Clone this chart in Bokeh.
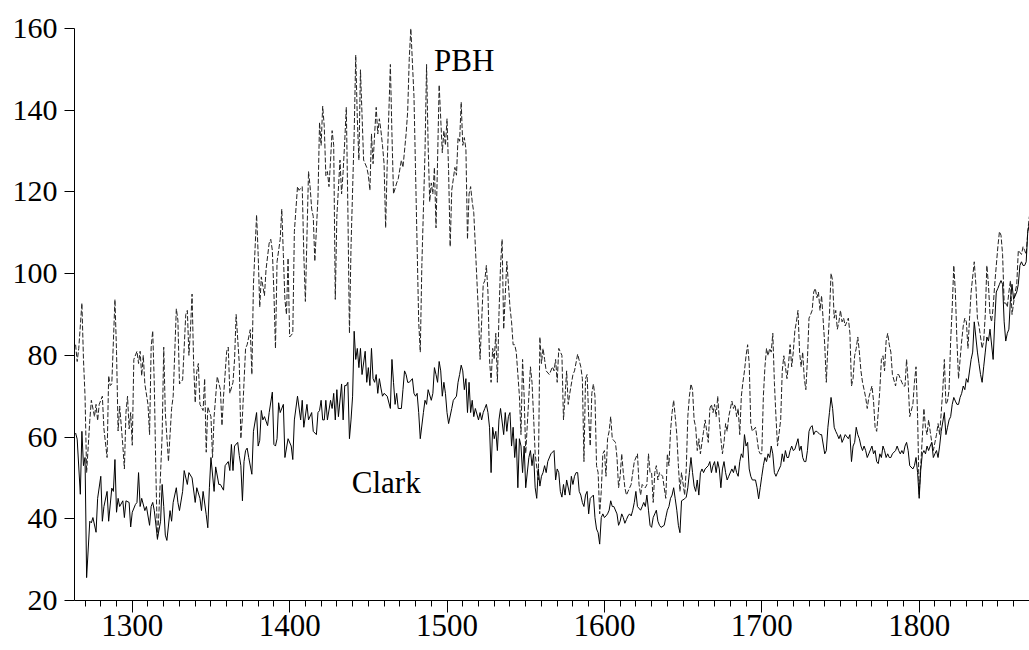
from bokeh.plotting import figure
from bokeh.models import Range1d, SingleIntervalTicker, Label
from bokeh.embed import file_html
from bokeh.resources import INLINE

# ---- data ----
pbh_years = [
1264,1265,1266,1268,1269,1270,1271,1273,1274,1276,1277,1278,1279,1281,1282,1284,1285,1286,1287,1289,
1290,1291,1292,1294,1295,1296,1297,1298,1299,1300,1301,1303,1304,1305,1306,1307,1308,1310,1311,1312,
1313,1314,1315,1316,1317,1319,1320,1321,1323,1325,1326,1328,1329,1330,1332,1334,1335,1336,1337,1338,
1339,1340,1341,1342,1343,1345,1346,1347,1348,1350,1351,1352,1354,1356,1357,1358,1360,1361,1362,1364,
1365,1366,1368,1369,1370,1372,1373,1375,1376,1377,1379,1380,1381,1382,1384,1385,1387,1388,1389,1390,
1391,1392,1394,1395,1396,1397,1398,1399,1400,1402,1403,1405,1406,1408,1409,1410,1412,1413,1414,1415,
1416,1418,1419,1420,1421,1422,1423,1424,1425,1426,1427,1428,1429,1430,1432,1433,1434,1435,1436,1437,
1438,1439,1441,1442,1443,1444,1445,1446,1447,1449,1450,1451,1452,1453,1454,1455,1456,1457,1458,1459,
1460,1461,1462,1464,1465,1466,1468,1469,1471,1472,1474,1475,1476,1477,1479,1480,1481,1482,1483,1484,
1486,1487,1488,1489,1490,1491,1492,1493,1494,1495,1496,1497,1498,1499,1500,1501,1502,1503,1505,1506,
1507,1508,1509,1510,1511,1512,1513,1514,1515,1516,1517,1518,1520,1521,1522,1523,1524,1525,1526,1527,
1528,1529,1530,1531,1532,1533,1534,1535,1536,1538,1539,1540,1541,1542,1543,1544,1546,1547,1548,1549,
1550,1552,1553,1554,1555,1556,1558,1559,1560,1561,1562,1563,1565,1567,1568,1569,1570,1571,1573,1574,
1575,1576,1577,1578,1580,1581,1583,1585,1586,1587,1588,1589,1590,1591,1592,1593,1594,1595,1596,1597,
1598,1599,1600,1601,1602,1603,1604,1605,1607,1608,1609,1610,1611,1612,1613,1614,1615,1617,1618,1619,
1621,1622,1623,1624,1626,1627,1628,1629,1630,1631,1632,1633,1634,1635,1637,1638,1639,1640,1641,1642,
1643,1644,1645,1646,1647,1648,1649,1651,1652,1653,1654,1655,1656,1657,1658,1659,1660,1661,1662,1663,
1664,1666,1667,1668,1669,1670,1671,1672,1673,1674,1675,1676,1677,1678,1679,1681,1682,1683,1684,1685,
1686,1687,1688,1689,1690,1691,1692,1693,1694,1696,1697,1698,1699,1700,1701,1702,1703,1704,1705,1706,
1707,1708,1709,1710,1712,1713,1714,1715,1716,1717,1718,1719,1720,1721,1722,1723,1724,1725,1726,1727,
1728,1729,1730,1731,1732,1733,1734,1735,1736,1737,1738,1740,1741,1742,1743,1744,1745,1746,1747,1748,
1749,1750,1751,1752,1753,1755,1756,1757,1758,1759,1760,1761,1762,1763,1764,1765,1766,1767,1768,1770,
1771,1772,1773,1774,1775,1776,1777,1778,1779,1780,1781,1782,1783,1785,1786,1787,1788,1789,1790,1791,
1792,1793,1794,1796,1797,1798,1799,1800,1801,1803,1804,1805,1806,1807,1808,1809,1811,1812,1813,1814,
1815,1816,1817,1818,1819,1820,1821,1822,1823,1824,1825,1826,1827,1828,1829,1830,1831,1832,1833,1835,
1836,1837,1838,1839,1840,1841,1842,1843,1844,1845,1846,1847,1848,1850,1851,1852,1853,1854,1855,1856,
1857,1858,1859,1860,1861,1862,1863,1865,1866,1867,1868,1869,1870]
pbh_values = [
82.6,78.5,81.7,92.8,79,70,51.3,64,69,65,68,64,68,70,62,55,75,72.6,73,93.7,
81,61.5,67.6,58,52.2,66,70,62,66,58,79,81,78,81,75,80,73,68,60.6,82,
86,73,51.3,34.7,42,60.6,82,66,54,67,70,91.4,88.6,73,74,90,91,80,86.4,95,
78,68.4,76,78,68,66.5,74.3,56.3,67.4,65,55,65,74.8,71.6,62.8,70,81,82,70.7,73.4,
79,90,78,59.6,65,81.7,82.6,86.3,75.3,97.4,114.4,104.7,91.8,99.2,94.6,101,107.5,108.4,105.7,95.5,
81.7,102.9,108.4,115.8,104.7,93.6,90,103.8,84.5,85.4,110.3,121.3,120.4,121.3,104.7,93.2,125,121.3,115.8,114,
103,118.6,137,131.4,141,136,124,125,121.3,127.8,135,131.4,93.7,114,127.8,119.5,125,132.4,140.7,115.8,
85.4,106.6,134.2,153.5,137.9,127.8,149.9,138.8,127.8,126,124.1,120.4,134.2,126.9,134.2,140.7,134.2,137.9,135,131.4,
126.9,111.2,126.9,151.2,134.2,119.5,122.2,123.2,127.8,126,134.2,139.7,152.6,160,143.4,125,106.6,88.2,80.8,102,
129.6,151.2,131.4,117.6,122.2,119.5,126,111.2,127.8,146.2,137.9,129.6,135,131.4,137.9,125,106.6,120.4,126,124.1,
133.3,132.4,142,131.4,133.3,130.5,108.4,119.5,121.3,117.6,114.9,106.6,90,79,88.2,97.4,98.3,102,95.5,79,
73.4,81.7,79,85.4,73.4,90,102,108.4,86.4,103,97.4,91.8,88.2,82.6,82.6,80.8,70,60.6,79,70,
56,70,77.2,73.4,65,55.9,49.5,84.5,78,81.7,79,76.2,75.3,77.2,76.2,79,73.4,81.7,80,64.2,
70,76.2,68,70.7,75.3,76.2,80.3,77.2,74.3,54,74.3,75.3,65,57.8,70.7,73,70,53,51.3,41.2,
46.7,55.9,56.7,50.4,59.6,61.4,65,59.6,58.7,55,47.6,50.4,55.9,51.3,47.6,45.8,46.7,48.4,51.3,54,
55.9,48.4,45.8,48.4,47.6,48.4,55.9,51.3,51.3,44,51.3,53,49.5,51.3,50.4,47.6,45,55.9,53,61.4,
66,69,65,60.6,53,46.7,51.3,45.8,52.2,65,70,73,71.6,64.2,62.4,56.7,59.6,55.9,58.7,61.4,
64.2,58.7,67,68,66,68,65,70,64.2,59.6,55.9,58.7,63.3,61.4,65,68.8,67,68,65,67,
60.6,70,73.4,76.2,79.9,82.6,78,63.3,61.4,62.4,59.6,56.7,55.9,55.9,70,77.2,81.7,79.9,81.7,80.8,
85.4,73.4,65,57.8,64.2,76.2,79.9,77.2,74.3,78,82.6,77.2,80.8,86,88.2,91,80.8,77.2,80.8,74.3,
71.6,79,89.1,90,91,95.5,96.4,94.1,95.5,91,94.6,82.6,73.4,82.6,90,100.1,98.3,89.1,91,86.4,
88.2,91,88.2,89.1,87.2,89.1,85.4,72.5,74.3,79.9,81.7,84.5,80.8,76.2,73.4,71.6,69.7,67,69.7,72.5,
68.8,62.4,61.4,66,71.6,79,79.9,76.2,83.5,85.4,82.6,80.8,75.3,72.5,75.3,75.3,74.3,73.4,72.5,72.5,
79,73.4,65,68,73.4,77.2,65,46,53,67,62.4,60.6,64.2,61.4,58.7,56.7,60.6,63.3,60.6,66,
71.6,79,68,68.8,71.6,83.5,91.8,102,95.5,83.5,74.3,79,83.5,87.2,89.1,88.2,81.7,89.1,95.5,102.9,
97.4,89.1,87.2,84.5,81.7,83.5,90,102,97.4,90,88.2,91.8,97.4,106.6,110.3,109.4,104.7,92.8,92.8,91.8,
95.5,98.3,90,92.8,95.5,97.4,105.7,104.7,106.6,105.7,104.7,110.3,114]

clark_years = [
1264,1265,1267,1268,1269,1270,1271,1273,1274,1275,1277,1278,1280,1281,1282,1284,1285,1287,1288,1289,
1290,1291,1292,1294,1295,1296,1298,1299,1300,1302,1303,1304,1305,1306,1308,1309,1311,1312,1313,1314,
1316,1318,1319,1320,1321,1322,1324,1325,1326,1328,1329,1330,1332,1333,1335,1336,1338,1340,1341,1343,
1344,1345,1347,1348,1349,1350,1352,1353,1355,1356,1358,1359,1361,1362,1363,1364,1365,1367,1368,1369,
1370,1371,1372,1373,1374,1376,1377,1379,1380,1381,1382,1383,1384,1386,1387,1389,1390,1391,1392,1393,
1394,1396,1397,1399,1401,1402,1403,1405,1407,1408,1409,1411,1412,1414,1415,1417,1418,1419,1420,1421,
1422,1423,1424,1426,1427,1428,1429,1430,1431,1433,1434,1435,1436,1437,1438,1439,1440,1441,1442,1443,
1444,1445,1446,1448,1449,1450,1451,1452,1453,1454,1455,1456,1457,1458,1459,1460,1462,1464,1465,1466,
1467,1468,1469,1471,1472,1473,1474,1475,1476,1478,1479,1480,1481,1482,1483,1485,1486,1487,1488,1490,
1491,1492,1493,1494,1495,1496,1497,1498,1499,1500,1501,1503,1504,1506,1507,1508,1509,1510,1511,1512,
1513,1514,1515,1516,1517,1518,1520,1521,1522,1523,1524,1525,1526,1527,1528,1529,1530,1531,1532,1533,
1534,1536,1537,1538,1539,1540,1541,1542,1543,1544,1545,1546,1547,1548,1549,1550,1552,1553,1554,1555,
1556,1557,1558,1559,1560,1561,1562,1563,1564,1566,1568,1569,1570,1571,1572,1573,1574,1575,1576,1578,
1579,1580,1581,1582,1583,1584,1585,1586,1587,1588,1589,1590,1591,1593,1594,1595,1596,1597,1598,1599,
1600,1601,1602,1603,1604,1605,1606,1608,1609,1610,1611,1612,1613,1614,1615,1616,1617,1618,1619,1620,
1621,1623,1624,1625,1626,1627,1628,1629,1630,1631,1632,1633,1634,1635,1636,1638,1639,1640,1641,1642,
1643,1644,1645,1646,1647,1648,1649,1651,1652,1653,1654,1655,1656,1657,1658,1659,1660,1661,1662,1663,
1664,1666,1667,1668,1669,1670,1671,1672,1673,1674,1675,1676,1677,1678,1679,1681,1682,1683,1684,1685,
1686,1687,1688,1689,1690,1691,1692,1693,1694,1696,1697,1698,1699,1700,1701,1702,1703,1704,1705,1706,
1707,1708,1709,1710,1712,1713,1714,1715,1716,1717,1718,1719,1720,1721,1723,1724,1725,1726,1727,1728,
1729,1730,1731,1732,1733,1734,1735,1736,1737,1738,1740,1741,1742,1743,1744,1745,1746,1747,1748,1749,
1750,1751,1752,1753,1755,1756,1757,1758,1759,1760,1761,1762,1763,1764,1765,1766,1767,1768,1770,1771,
1772,1773,1774,1775,1776,1777,1778,1779,1780,1781,1782,1783,1785,1786,1787,1788,1789,1790,1791,1792,
1793,1794,1796,1797,1798,1799,1800,1801,1802,1803,1804,1805,1806,1807,1808,1809,1810,1811,1812,1813,
1814,1816,1817,1818,1819,1820,1821,1822,1823,1824,1825,1826,1827,1828,1829,1830,1831,1833,1834,1835,
1836,1837,1838,1839,1840,1841,1842,1843,1844,1845,1847,1848,1849,1850,1851,1852,1853,1854,1855,1856,
1857,1858,1859,1860,1862,1863,1864,1865,1866,1867,1868,1869,1870]
clark_values = [
61,59.5,46,61.4,53,55,25.6,39.4,39,40.3,36.7,45,50.4,39.4,43,46.7,39.4,47.5,46.7,54.5,
41.6,45,43,44.4,40.3,44.4,44,38,41.6,43.5,44,51.3,43,45,42,43,38.4,43,44,42,
35.2,39.4,48.4,43,36,34.7,42,39.4,44,47.6,44,42,46.7,51.8,48.4,51.3,50,44,47.6,45,
42,46.7,41,37.8,47.6,55,46.7,52.7,48.4,48.4,47,53,54,51.8,58.2,51.8,57.8,58.7,55.5,53,
44.4,54,56.7,57.3,55,50.9,61.4,66,57.8,59.2,66.5,64.2,65,62.8,66,71,58.2,57.8,59.6,68.4,
66,68,55,59.6,57.8,54.5,64.2,70,64.2,69,62.4,68,64.2,66,61.4,60.6,66,66.5,69,64.2,
64.2,69,64.2,69,67,70.7,64.2,71.6,65,73,64.2,72.6,72.6,73.4,59.6,64.2,70,85.9,79,81.7,
77,81.7,75.3,81,73.4,77,72.6,81.7,74.3,73.4,75.3,70.7,74.3,72,70,70.7,70,67,79,73.4,
68,70.7,67,67,71.6,76.2,75.3,73.4,73.4,74.3,70.7,70,70.7,66,59.6,66,69,68,71.6,69,
70.7,77,75.3,73.4,78.5,76.2,70,73.4,70.7,66,63.3,67,69,70,73.4,75.3,77.6,76.2,71.6,74.3,
66,73.4,66,69,65,67,64.2,66,64.2,66,67,68,66,62.4,51.3,62.4,59.6,61.4,56.7,64.2,
67,60.6,66,61.4,65,66,57.8,62.4,55,59.6,47.6,59.6,57.8,51.3,57.8,47.6,55,56.7,53,55.9,
47.6,45,52.2,48,50.4,51.3,53,51.3,54,55.9,56.7,49.5,52.2,51.3,46.7,45.3,48.4,45.8,49.5,45.8,
50.4,48.4,50.4,51.3,51.3,46.7,45.8,44,43,45.8,46.7,41.2,45,45.8,40.3,37.5,36.6,33.8,40.3,41.2,
40.3,40.7,41.2,42.1,44.4,43,43,41.2,38.4,39.4,41.2,40.3,38.9,39.8,40.7,41.2,40.7,42.1,44,46.7,
43,42.1,43,44,43,45.8,42.1,38.4,37.9,40.3,41.2,42.1,39.4,38.4,37.9,38.4,40.3,42.1,43,45,
45.8,47.6,44.9,42.1,38.4,36.6,44.4,44.9,45.3,47.6,51.3,55,51.3,48,46.7,49.5,45.8,51.3,52.2,51.3,
52.2,53,54,51.3,53,54,51.3,54,52.2,47.6,52.2,54,51.3,49.5,50.4,52.2,51.3,53,51.3,50.4,
54,55.9,55,60.6,57.8,58.7,52.2,50.4,49.5,49.5,47.6,44.9,47.6,50.4,53,55,54,55.9,55,57.8,
55.9,51.3,50.4,51.3,53,55.9,54,56.7,55,55,56.7,57.8,56.7,57,59.6,56.7,57.8,55,54,54,
56.7,61.4,62.4,62.8,60.6,61.4,61.4,61,60.6,60.6,55.9,56.7,62.4,66,69.7,67,62.4,61.4,60.6,59.6,
60.6,58.7,59.6,60.6,59.6,60.6,54,57.8,58.7,62.4,60.6,59.6,57.8,56.7,57.8,56.7,55,55.9,57.8,55.9,
56.7,54,53.5,55.9,55,57.8,56.7,55,55.9,55,55,55.9,56.7,57.8,56.7,55.9,56.7,55.9,57.8,58.7,
56.7,53,52.2,53,55,51.3,45,52,55.9,56.7,55.9,57.8,56.7,57.8,58.7,55,55.9,56.7,55,57.8,
61.4,66,60.6,62.4,64.2,65,68,69.7,68.8,68,68,69.7,70.7,72.5,71.6,74.3,73.4,79,80.8,88.2,
84.5,80.8,78,75.3,73.4,77.2,80.8,84.5,83.5,86.4,79,88.2,95.5,96.4,97.4,98.3,97.4,88.2,83.5,85.4,
86.4,93.7,97.4,93.7,95.5,97.4,102,102.9,102,102,102.9,110.3,112.1]

y_ticks_step = 20
x_ticks_step = 100
series_labels = ["PBH", "Clark"]

# ---- figure ----
p = figure(width=1029, height=650,
           x_range=Range1d(1263.3, 1870.1), y_range=Range1d(20, 160),
           output_backend="svg", toolbar_location=None,
           min_border_left=74, min_border_right=0,
           min_border_top=28, min_border_bottom=50)
p.outline_line_color = None
p.xgrid.visible = False
p.ygrid.visible = False
p.background_fill_color = "white"
p.border_fill_color = "white"

FONT = "Liberation Serif"

p.xaxis.ticker = SingleIntervalTicker(interval=x_ticks_step, num_minor_ticks=10)
p.yaxis.ticker = SingleIntervalTicker(interval=y_ticks_step, num_minor_ticks=0)

for ax in (p.xaxis[0], p.yaxis[0]):
    ax.axis_line_color = "black"
    ax.axis_line_width = 1
    ax.major_tick_line_color = "black"
    ax.minor_tick_line_color = "black"
    ax.major_tick_in = 0
    ax.minor_tick_in = 0
    ax.major_label_text_font = FONT
    ax.major_label_text_color = "black"

p.xaxis.major_tick_out = 12
p.xaxis.minor_tick_out = 6
p.xaxis.major_label_text_font_size = "31px"
p.xaxis.major_label_standoff = 2

p.yaxis.major_tick_out = 10
p.yaxis.minor_tick_out = 0
p.yaxis.major_label_text_font_size = "30px"
p.yaxis.major_label_standoff = 7

p.line(pbh_years, pbh_values, line_color="#222222", line_width=1, line_dash="5 2")
p.line(clark_years, clark_values, line_color="black", line_width=1)

p.add_layout(Label(x=1491.8, y=152.2, text=series_labels[0], text_font=FONT,
                   text_font_size="31px", text_color="black",
                   text_align="left", text_baseline="alphabetic"))
p.add_layout(Label(x=1439.5, y=49.0, text=series_labels[1], text_font=FONT,
                   text_font_size="31px", text_color="black",
                   text_align="left", text_baseline="alphabetic"))

open("out.html", "w").write(file_html(p, INLINE))
